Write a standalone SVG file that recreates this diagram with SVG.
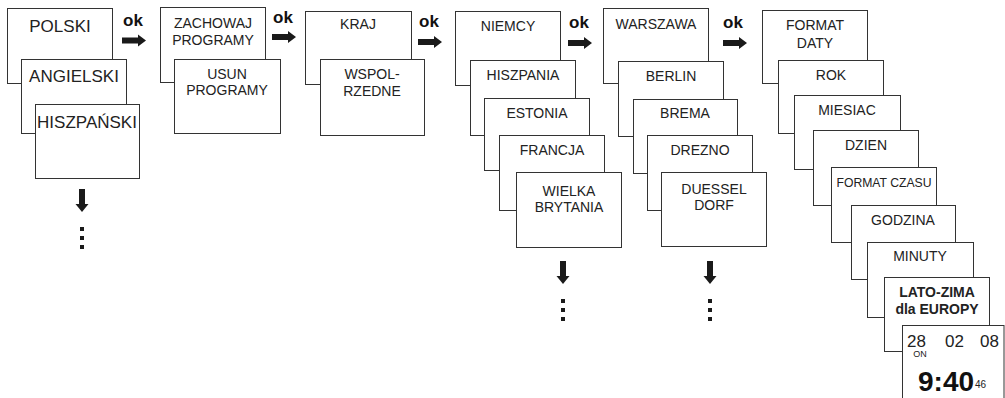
<svg xmlns="http://www.w3.org/2000/svg" width="1005" height="398" viewBox="0 0 1005 398">
<style>
.b{fill:#fff;stroke:#333;stroke-width:1}
.t{font-family:"Liberation Sans",Arial,sans-serif;font-size:14px;fill:#222;text-anchor:middle}
.L{font-size:17px}
.B{font-weight:bold}
.ok{font-family:"Liberation Sans",Arial,sans-serif;font-size:17px;font-weight:bold;fill:#111}
.a{fill:#1a1a1a}
</style>
<defs>
<path id="ar" d="M0,-3 H16 V-6 L24,0 L16,6 V3 H0 Z"/>
<path id="ad" d="M-3,0 V15 H-6.5 L0,23 L6.5,15 H3 V0 Z"/>
<g id="dots"><rect x="-2" y="0" width="4" height="4"/><rect x="-2" y="9" width="4" height="4"/><rect x="-2" y="18" width="4" height="4"/></g>
</defs>
<rect width="1005" height="398" fill="#fff"/>

<g id="n-polski"><rect class="b" x="7.5" y="8.5" width="105" height="75"/><text class="t L" x="60" y="32">POLSKI</text></g>
<g id="n-angielski"><rect class="b" x="21.5" y="59.5" width="105" height="74"/><text class="t L" x="74" y="82">ANGIELSKI</text></g>
<g id="n-hiszpanski"><rect class="b" x="35.5" y="104.5" width="104" height="74"/><text class="t L" x="87" y="128">HISZPAŃSKI</text></g>

<g id="n-zachowaj"><rect class="b" x="160.5" y="7.5" width="105" height="75"/><text class="t" x="213" y="28">ZACHOWAJ</text><text class="t" x="213" y="45">PROGRAMY</text></g>
<g id="n-usun"><rect class="b" x="174.5" y="59.5" width="106" height="74"/><text class="t" x="227" y="79">USUN</text><text class="t" x="227" y="95">PROGRAMY</text></g>

<g id="n-kraj"><rect class="b" x="305.5" y="11.5" width="106" height="73"/><text class="t" x="358" y="29">KRAJ</text></g>
<g id="n-wspol"><rect class="b" x="320.5" y="59.5" width="104" height="76"/><text class="t" x="372" y="79">WSPOL-</text><text class="t" x="372" y="96">RZEDNE</text></g>

<g id="n-niemcy"><rect class="b" x="455.5" y="11.5" width="105" height="74"/><text class="t" x="508" y="31">NIEMCY</text></g>
<g id="n-hiszpania"><rect class="b" x="470.5" y="60.5" width="105" height="75"/><text class="t" x="523" y="80">HISZPANIA</text></g>
<g id="n-estonia"><rect class="b" x="484.5" y="98.5" width="105" height="72"/><text class="t" x="537" y="118">ESTONIA</text></g>
<g id="n-francja"><rect class="b" x="499.5" y="135.5" width="105" height="75"/><text class="t" x="552" y="155">FRANCJA</text></g>
<g id="n-wielka"><rect class="b" x="516.5" y="172.5" width="105" height="75"/><text class="t" x="569" y="196">WIELKA</text><text class="t" x="569" y="212">BRYTANIA</text></g>

<g id="n-warszawa"><rect class="b" x="603.5" y="8.5" width="105" height="75"/><text class="t" x="656" y="29">WARSZAWA</text></g>
<g id="n-berlin"><rect class="b" x="618.5" y="61.5" width="105" height="75"/><text class="t" x="671" y="81">BERLIN</text></g>
<g id="n-brema"><rect class="b" x="633.5" y="99.5" width="104" height="74"/><text class="t" x="685" y="118">BREMA</text></g>
<g id="n-drezno"><rect class="b" x="647.5" y="135.5" width="105" height="75"/><text class="t" x="700" y="155">DREZNO</text></g>
<g id="n-duessel"><rect class="b" x="661.5" y="172.5" width="105" height="74"/><text class="t" x="714" y="194">DUESSEL</text><text class="t" x="714" y="210">DORF</text></g>

<g id="n-format-daty"><rect class="b" x="762.5" y="10.5" width="105" height="73"/><text class="t" x="815" y="30">FORMAT</text><text class="t" x="815" y="48">DATY</text></g>
<g id="n-rok"><rect class="b" x="778.5" y="60.5" width="105" height="73"/><text class="t" x="831" y="80">ROK</text></g>
<g id="n-miesiac"><rect class="b" x="794.5" y="95.5" width="106" height="74"/><text class="t" x="847" y="115">MIESIAC</text></g>
<g id="n-dzien"><rect class="b" x="813.5" y="130.5" width="105" height="75"/><text class="t" x="866" y="150">DZIEN</text></g>
<g id="n-format-czasu"><rect class="b" x="831.5" y="167.5" width="105" height="75"/><text class="t" x="884" y="187" style="font-size:13px" textLength="95" lengthAdjust="spacingAndGlyphs">FORMAT CZASU</text></g>
<g id="n-godzina"><rect class="b" x="851.5" y="205.5" width="104" height="74"/><text class="t" x="903" y="225">GODZINA</text></g>
<g id="n-minuty"><rect class="b" x="867.5" y="242.5" width="106" height="75"/><text class="t" x="920" y="261">MINUTY</text></g>
<g id="n-lato-zima"><rect class="b" x="884.5" y="277.5" width="105" height="74"/><text class="t B" x="937" y="297">LATO-ZIMA</text><text class="t B" x="937" y="314">dla EUROPY</text></g>
<g id="n-display"><rect class="b" x="902.5" y="325.5" width="101.5" height="80"/>
<text class="t" style="font-size:17px;text-anchor:start" x="907" y="347">28</text>
<text class="t" style="font-size:17px;text-anchor:start" x="945" y="347">02</text>
<text class="t" style="font-size:17px;text-anchor:start" x="980" y="347">08</text>
<text class="t" style="font-size:9px" x="920" y="357">ON</text>
<text class="t B" style="font-size:28px;text-anchor:start;fill:#111" x="918" y="391">9:40</text>
<text class="t" style="font-size:10px;text-anchor:start" x="975" y="388">46</text>
</g>

<g id="connectors" class="a">
<text class="ok" x="123" y="26">ok</text><use href="#ar" x="122" y="40.5"/>
<text class="ok" x="273" y="23">ok</text><use href="#ar" x="272" y="37"/>
<text class="ok" x="419" y="27">ok</text><use href="#ar" x="418" y="42"/>
<text class="ok" x="569" y="28">ok</text><use href="#ar" x="568" y="43"/>
<text class="ok" x="723" y="28">ok</text><use href="#ar" x="723" y="43"/>
<use href="#ad" x="82" y="189"/><use href="#dots" x="82" y="227"/>
<use href="#ad" x="563" y="261"/><use href="#dots" x="563" y="299"/>
<use href="#ad" x="710" y="261"/><use href="#dots" x="710" y="299"/>
</g>
</svg>
